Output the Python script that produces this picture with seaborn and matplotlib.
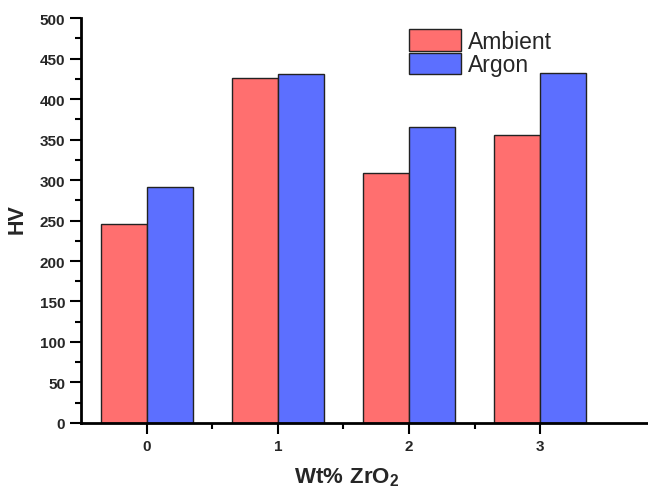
import matplotlib
matplotlib.use("Agg")
import matplotlib.pyplot as plt
import seaborn as sns
import pandas as pd
from matplotlib.ticker import MultipleLocator, FixedLocator

categories = ["0", "1", "2", "3"]
ambient = [246, 426, 309, 355]
argon = [292, 431, 366, 432]
series_names = ["Ambient", "Argon"]

df = pd.DataFrame({
    "wt": categories * 2,
    "HV": ambient + argon,
    "cond": [series_names[0]] * 4 + [series_names[1]] * 4,
})

sns.set_theme(style="ticks")
plt.rcParams["font.family"] = ["Liberation Sans", "DejaVu Sans"]
plt.rcParams["mathtext.fontset"] = "custom"
plt.rcParams["mathtext.rm"] = "Liberation Sans:bold"
plt.rcParams["mathtext.bf"] = "Liberation Sans:bold"

fig = plt.figure(figsize=(6.48, 4.89), dpi=100)
ax = fig.add_axes([0.125, 0.133, 0.875, 0.828])

palette = {"Ambient": "#FF6F6F", "Argon": "#5C6FFF"}
sns.barplot(data=df, x="wt", y="HV", hue="cond", palette=palette, width=0.7,
            edgecolor="#222222", linewidth=1.0, saturation=1, ax=ax)

ax.set_xlim(-0.5, 3.82)
ax.set_ylim(0, 500)
ax.yaxis.set_major_locator(MultipleLocator(50))
ax.yaxis.set_minor_locator(MultipleLocator(25))
ax.xaxis.set_minor_locator(FixedLocator([0.5, 1.5, 2.5]))

for s in ["top", "right"]:
    ax.spines[s].set_visible(False)
for s in ["left", "bottom"]:
    ax.spines[s].set_linewidth(2)
    ax.spines[s].set_color("black")

ax.tick_params(axis="both", which="major", length=8, width=1.5, direction="out",
               labelsize=11, color="black")
ax.tick_params(axis="both", which="minor", length=4, width=1.5, direction="out", color="black")
for lab in ax.get_xticklabels() + ax.get_yticklabels():
    lab.set_fontweight("bold")

ax.set_ylabel("HV", fontsize=15.5, fontweight="bold")
ax.yaxis.set_label_coords(-0.094, 0.505)
ax.set_xlabel(r"$\mathrm{Wt\%\ ZrO_2}$", fontsize=16)
ax.xaxis.set_label_coords(0.469, -0.106)

leg = ax.legend(loc="upper left", bbox_to_anchor=(0.578, 0.972), frameon=False,
                fontsize=16.5, handlelength=2.3, handleheight=1.05, handletextpad=0.3,
                labelspacing=0.0, borderaxespad=0.0, borderpad=0.0)
for h in leg.legend_handles:
    h.set_edgecolor("#222222")

fig.savefig("out.png", dpi=100)
